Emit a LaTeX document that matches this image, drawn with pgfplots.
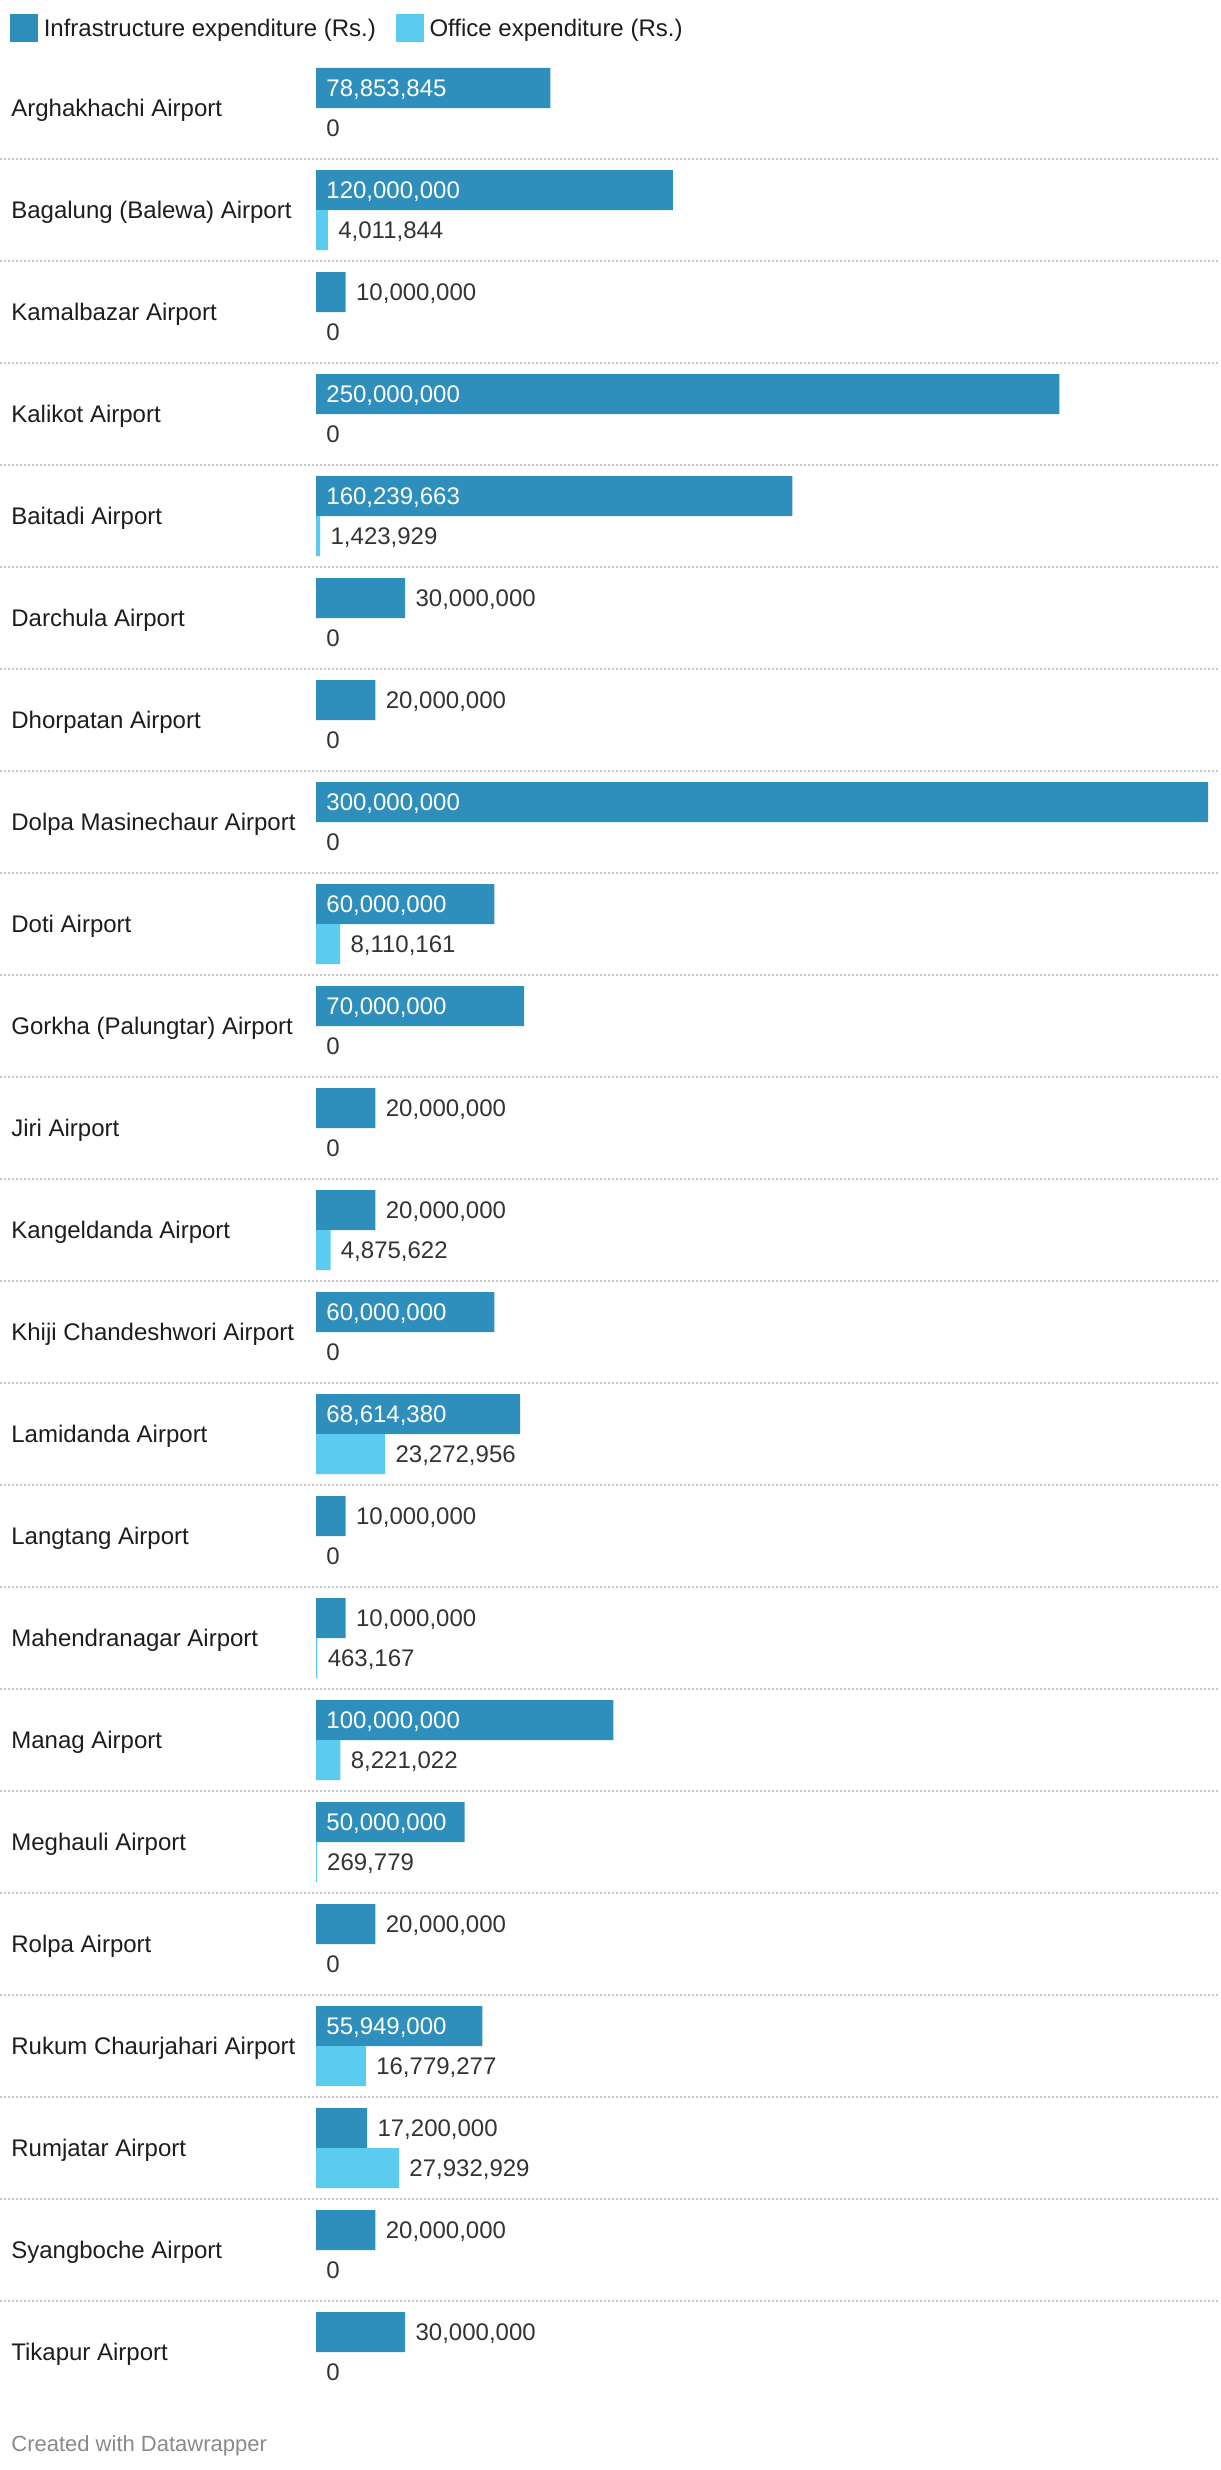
\documentclass[border=0pt]{standalone}
\usepackage{pgfplots}
\pgfplotsset{compat=1.18}
\usepackage{pgfplotstable}
\usepackage{fontspec}
\setmainfont{Liberation Sans}
\definecolor{infra}{HTML}{2E8FBD}
\definecolor{office}{HTML}{5BCBEF}
\definecolor{txt}{HTML}{333333}
\definecolor{cat}{HTML}{1D1D1D}
\definecolor{sep}{HTML}{C8C8C8}
\definecolor{foot}{HTML}{8A8A8A}
\newcommand\lbl{\fontsize{12pt}{14pt}\selectfont}

\pgfplotstableread{
idx val
1 78.853845
2 120
3 10
4 250
5 160.239663
6 30
7 20
8 300
9 60
10 70
11 20
12 20
13 60
14 68.61438
15 10
16 10
17 100
18 50
19 20
20 55.949
21 17.2
22 20
23 30
}\infraT

\pgfplotstableread{
idx x lab
1 0 78,853,845
2 0 120,000,000
4 0 250,000,000
5 0 160,239,663
8 0 300,000,000
9 0 60,000,000
10 0 70,000,000
13 0 60,000,000
14 0 68,614,380
17 0 100,000,000
18 0 50,000,000
20 0 55,949,000
}\infraInT

\pgfplotstableread{
idx val lab
3 10 10,000,000
6 30 30,000,000
7 20 20,000,000
11 20 20,000,000
12 20 20,000,000
15 10 10,000,000
16 10 10,000,000
19 20 20,000,000
21 17.2 17,200,000
22 20 20,000,000
23 30 30,000,000
}\infraOutT

\pgfplotstableread{
idx val lab
2 4.011844 4,011,844
5 1.423929 1,423,929
9 8.110161 8,110,161
12 4.875622 4,875,622
14 23.272956 23,272,956
16 0.463167 463,167
17 8.221022 8,221,022
18 0.269779 269,779
20 16.779277 16,779,277
21 27.932929 27,932,929
}\officeT

\pgfplotstableread{
idx val lab
1 0 0
3 0 0
4 0 0
6 0 0
7 0 0
8 0 0
10 0 0
11 0 0
13 0 0
15 0 0
19 0 0
22 0 0
23 0 0
}\officeZeroT

\begin{document}
\begin{tikzpicture}
\begin{axis}[
  scale only axis, width=610pt, height=1235pt,
  xbar, bar width=20pt,
  xmin=-106.28, xmax=304.04,
  ymin=-0.0588, ymax=24.157, y dir=reverse,
  axis line style={draw=none}, tick style={draw=none},
  xtick=\empty,
  ytick={1,...,23},
  yticklabels={Arghakhachi Airport, Bagalung (Balewa) Airport, Kamalbazar Airport, Kalikot Airport, Baitadi Airport, Darchula Airport, Dhorpatan Airport, Dolpa Masinechaur Airport, Doti Airport, Gorkha (Palungtar) Airport, Jiri Airport, Kangeldanda Airport, Khiji Chandeshwori Airport, Lamidanda Airport, Langtang Airport, Mahendranagar Airport, Manag Airport, Meghauli Airport, Rolpa Airport, Rukum Chaurjahari Airport, Rumjatar Airport, Syangboche Airport, Tikapur Airport},
  yticklabel style={anchor=base west, inner sep=0pt, xshift=9.75pt, yshift=-4.3pt, font=\lbl, text=cat},
  minor ytick={1.5,2.5,...,22.5},
  yminorgrids=true,
  minor grid style={sep, line width=0.8pt, dash pattern=on 1pt off 1pt},
  clip=false,
  legend style={at={(axis description cs:0,1)}, anchor=north west, xshift=5pt, yshift=-6.8pt,
    draw=none, fill=none, inner sep=0pt, legend columns=2, font=\lbl, text=cat,
    /tikz/every odd column/.style={column sep=0.7pt},
    /tikz/every even column/.style={column sep=8.1pt}},
  legend cell align=left,
  legend image code/.code={\fill[#1] (0pt,-6.2pt) rectangle (14pt,7.8pt);},
]
\addplot[fill=infra, draw=none, bar shift=10pt] table[x=val, y=idx] {\infraT};
\addlegendentry{Infrastructure expenditure (Rs.)}
\addplot[fill=office, draw=none, bar shift=-10pt,
  point meta=explicit symbolic, nodes near coords={\pgfplotspointmeta},
  nodes near coords style={anchor=base west, inner sep=0pt, xshift=5pt, yshift=-4.3pt, font=\lbl, text=txt}]
  table[x=val, y=idx, meta=lab] {\officeT};
\addlegendentry{Office expenditure (Rs.)}
\addplot[draw=none, fill=none, bar shift=-10pt, forget plot,
  point meta=explicit symbolic, nodes near coords={\pgfplotspointmeta},
  nodes near coords style={anchor=base west, inner sep=0pt, xshift=5pt, yshift=-4.3pt, font=\lbl, text=txt}]
  table[x=val, y=idx, meta=lab] {\officeZeroT};
\addplot[draw=none, fill=none, bar shift=10pt, forget plot,
  point meta=explicit symbolic, nodes near coords={\pgfplotspointmeta},
  nodes near coords style={anchor=base west, inner sep=0pt, xshift=5pt, yshift=-4.3pt, font=\lbl, text=white}]
  table[x=x, y=idx, meta=lab] {\infraInT};
\addplot[draw=none, fill=none, bar shift=10pt, forget plot,
  point meta=explicit symbolic, nodes near coords={\pgfplotspointmeta},
  nodes near coords style={anchor=base west, inner sep=0pt, xshift=5pt, yshift=-4.3pt, font=\lbl, text=txt}]
  table[x=val, y=idx, meta=lab] {\infraOutT};
\node[anchor=base west, inner sep=0pt, font=\fontsize{11pt}{13pt}\selectfont, text=foot] at (axis cs:-102.58,23.98) {Created with Datawrapper};
\end{axis}
\pgfresetboundingbox
\path (current axis.south west) rectangle (current axis.north east);
\end{tikzpicture}
\end{document}
